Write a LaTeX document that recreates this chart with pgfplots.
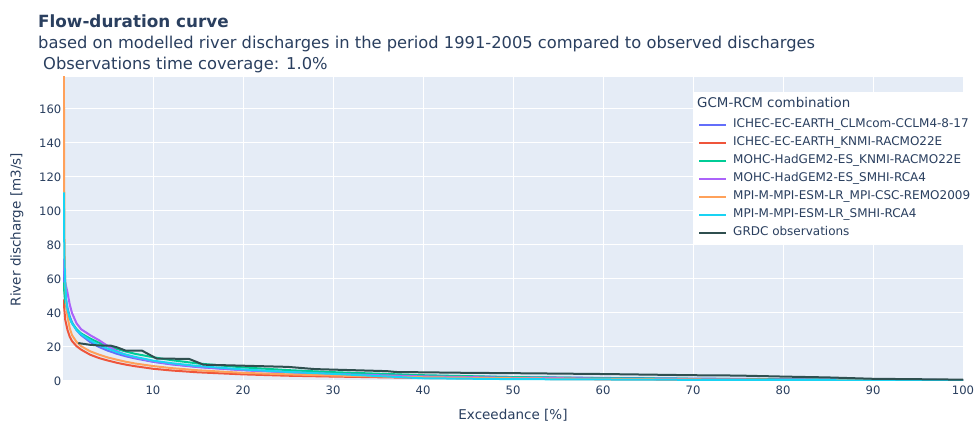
\documentclass[border=0pt]{standalone}
\usepackage{pgfplots}
\pgfplotsset{compat=1.18}
\usepackage{fontspec}
\setmainfont{DejaVu Sans}

\definecolor{txt}{HTML}{2A3F5F}
\definecolor{bgplot}{HTML}{E5ECF6}
\definecolor{cBlue}{HTML}{636EFA}
\definecolor{cRed}{HTML}{EF553B}
\definecolor{cGreen}{HTML}{00CC96}
\definecolor{cPurple}{HTML}{AB63FA}
\definecolor{cOrange}{HTML}{FFA15A}
\definecolor{cCyan}{HTML}{19D3F3}
\definecolor{cObs}{HTML}{2F4F4F}

% Flow-duration curves: exceedance [%] vs discharge [m3/s]
\pgfplotstableread{
x y
0.05 65
0.15 57
0.25 50
0.5 43
0.75 38
1 34.5
1.5 30
2 27
3 23
4 20
5 17.8
6 16
7 14.5
8 13.3
10 11.3
12 9.8
15 8.2
20 6.4
25 5.2
30 4.3
40 3.1
50 2.3
60 1.8
70 1.4
80 1.1
90 0.8
100 0.5
}\tblBlue
\pgfplotstableread{
x y
0.05 48
0.15 42
0.25 36
0.5 30
0.75 26
1 23.5
1.5 20.5
2 18.5
3 15.5
4 13.5
5 12
6 10.7
7 9.6
8 8.7
10 7.2
12 6.2
15 5.1
20 3.9
25 3.1
30 2.6
40 1.8
50 1.3
60 1.0
70 0.8
80 0.6
90 0.45
100 0.3
}\tblRed
\pgfplotstableread{
x y
0.05 58
0.15 52
0.25 46
0.5 41
0.75 37
1 34
1.5 30.5
2 28
3 25
4 22.5
5 20.5
6 18.8
7 17.3
8 16
10 14
12 12.3
15 10.3
20 8
25 6.4
30 5.2
40 3.4
50 2.3
60 1.7
70 1.3
80 1.0
90 0.7
100 0.5
}\tblGreen
\pgfplotstableread{
x y
0.05 72
0.15 64
0.25 58
0.5 52
0.75 45
1 40
1.5 34
2 30.5
3 27
4 24
5 20.5
6 17.5
7 15.3
8 13.8
10 11.5
12 10
15 8.3
20 6.4
25 5.1
30 4.1
40 2.7
50 1.9
60 1.4
70 1.0
80 0.8
90 0.6
100 0.4
}\tblPurple
\pgfplotstableread{
x y
0.1 185
0.13 120
0.17 80
0.25 58
0.35 45
0.5 38
0.75 31
1 27
1.5 23
2 20.5
3 17.5
4 15.5
5 13.8
6 12.5
7 11.3
8 10.3
10 8.8
12 7.6
15 6.3
20 4.8
25 3.9
30 3.2
40 2.2
50 1.6
60 1.2
70 0.9
80 0.7
90 0.5
100 0.3
}\tblOrange
\pgfplotstableread{
x y
0.1 111
0.13 85
0.17 70
0.25 58
0.35 48
0.5 42
0.75 37
1 34
1.5 30
2 27.5
3 24
4 21
5 19
6 17
7 15.5
8 14.2
10 12
12 10.5
15 8.8
20 6.8
25 5.3
30 4.2
40 1.6
50 1.1
60 0.9
70 0.7
80 0.5
90 0.4
100 0.3
}\tblCyan
\pgfplotstableread{
x y
1.7 22.3
3 21.3
4 20.9
5.3 20.8
6 19.8
7 17.8
8.8 17.8
10.4 13.2
14 13.0
15.6 9.6
20 9.0
25 8.3
28 7.0
32 6.4
36 5.8
37 5.3
45 4.8
50 4.6
60 4.1
70 3.4
75 3.2
80 2.6
85 2.1
90 1.3
100 0.8
}\tblObs

\begin{document}
\begin{tikzpicture}
\useasboundingbox (0pt,0pt) rectangle (974pt,423pt);
\fill[white] (0pt,0pt) rectangle (974pt,423pt);

\node[anchor=base west, inner sep=0pt, text=txt, font=\fontsize{16.8}{20}\selectfont\bfseries]
  at (38pt,395.5pt) {Flow-duration curve};
\node[anchor=base west, inner sep=0pt, text=txt, font=\fontsize{16.3}{20}\selectfont]
  at (38pt,374pt) {based on modelled river discharges in the period 1991-2005 compared to observed discharges};
\node[anchor=base west, inner sep=0pt, text=txt, font=\fontsize{16.3}{20}\selectfont]
  at (43pt,353pt) {Observations time coverage: 1.0\%};

\begin{axis}[
  at={(63pt,42pt)}, anchor=south west,
  scale only axis, width=900pt, height=304pt,
  xmin=0, xmax=100, ymin=0, ymax=178.8,
  axis background/.style={fill=bgplot},
  axis line style={draw=none},
  xtick={10,20,...,100}, ytick={0,20,...,160},
  extra y ticks={0},
  extra y tick style={grid style={white, line width=2pt}, yticklabels={}},
  grid=major, major grid style={white, line width=1pt},
  tick style={draw=none},
  ticklabel style={font=\fontsize{11.6}{14}\selectfont, text=txt},
  yticklabel style={inner xsep=1.5pt},
  xticklabel style={yshift=-1.5pt},
  /pgf/number format/assume math mode=true,
  xlabel={Exceedance [\%]},
  ylabel={River discharge [m3/s]},
  xlabel style={font=\fontsize{13.5}{16}\selectfont, text=txt, inner sep=0pt,
    at={(axis description cs:0.5,-0.125)}, anchor=base},
  ylabel style={font=\fontsize{13.5}{16}\selectfont, text=txt, inner sep=0pt,
    at={(axis description cs:-0.0511,0.498)}, anchor=center, rotate=0},
  no markers,
  every axis plot/.append style={line width=2pt, line join=round},
  legend image code/.code={\draw[#1, line width=2pt] (0pt,0pt) -- (27pt,0pt);},
  legend cell align=left,
  legend style={
    at={(axis description cs:0.7,0.9507)}, anchor=north west,
    draw=none, fill=white,
    font=\fontsize{12}{14}\selectfont, text=txt,
    inner xsep=5pt, inner ysep=3pt,
    column sep=6pt, row sep=0pt,
    nodes={inner xsep=0pt, inner ysep=3pt, text height=9pt, text depth=3pt},
  },
]
\addlegendimage{empty legend}
\addlegendentry[text depth=5.5pt]{\hspace*{-36pt}\fontsize{13.4}{16}\selectfont GCM-RCM combination}
\addplot[cBlue] table {\tblBlue};
\addlegendentry{ICHEC-EC-EARTH\_CLMcom-CCLM4-8-17}
\addplot[cRed] table {\tblRed};
\addlegendentry{ICHEC-EC-EARTH\_KNMI-RACMO22E}
\addplot[cGreen] table {\tblGreen};
\addlegendentry{MOHC-HadGEM2-ES\_KNMI-RACMO22E}
\addplot[cPurple] table {\tblPurple};
\addlegendentry{MOHC-HadGEM2-ES\_SMHI-RCA4}
\addplot[cOrange] table {\tblOrange};
\addlegendentry{MPI-M-MPI-ESM-LR\_MPI-CSC-REMO2009}
\addplot[cCyan] table {\tblCyan};
\addlegendentry{MPI-M-MPI-ESM-LR\_SMHI-RCA4}
\addplot[cObs] table {\tblObs};
\addlegendentry{GRDC observations}
\end{axis}
\end{tikzpicture}
\end{document}
